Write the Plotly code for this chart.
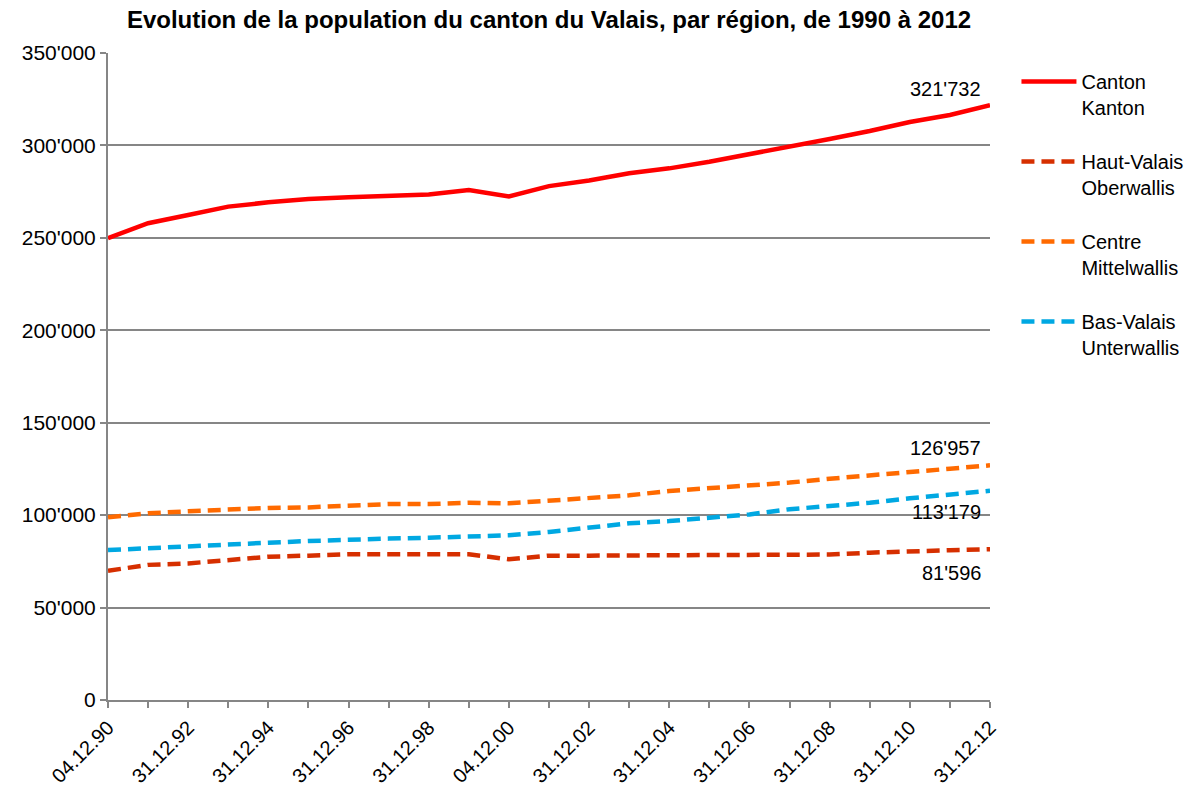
import plotly.graph_objects as go

categories = ["04.12.90", "31.12.91", "31.12.92", "31.12.93", "31.12.94", "31.12.95",
              "31.12.96", "31.12.97", "31.12.98", "31.12.99", "04.12.00", "31.12.01",
              "31.12.02", "31.12.03", "31.12.04", "31.12.05", "31.12.06", "31.12.07",
              "31.12.08", "31.12.09", "31.12.10", "31.12.11", "31.12.12"]

canton = [249817, 257900, 262400, 266900, 269200, 271000, 272000, 272600, 273400, 275900,
          272399, 278000, 281000, 284900, 287600, 291200, 295200, 299000, 303500, 307800,
          312700, 316500, 321732]
haut_valais = [69900, 73100, 73900, 75400, 77500, 78100, 78800, 78800, 78800, 78800,
               76100, 78100, 78100, 78100, 78500, 78500, 78500, 78500, 78700, 79700,
               80600, 81000, 81596]
centre = [98800, 101000, 102100, 103200, 103900, 104200, 104900, 106000, 106000, 106700,
          106400, 107800, 108900, 110700, 113100, 114500, 115800, 117600, 119700, 121200,
          123300, 125100, 126957]
bas_valais = [81100, 82200, 83500, 84600, 85100, 86000, 86900, 87300, 87800, 88300,
              89100, 90900, 93200, 95600, 96800, 98600, 100400, 103200, 104900, 106700,
              109100, 111100, 113179]

tick_labels = [c if i % 2 == 0 else "" for i, c in enumerate(categories)]

series = [
    ("Canton<br>Kanton", canton, "#FF0000", "solid"),
    ("Haut-Valais<br>Oberwallis", haut_valais, "#D62F00", "13px,7px"),
    ("Centre<br>Mittelwallis", centre, "#FF6A00", "13px,7px"),
    ("Bas-Valais<br>Unterwallis", bas_valais, "#00A8E2", "13px,7px"),
]

FONT = "Liberation Sans, Arial, sans-serif"

fig = go.Figure()
for i, (name, vals, color, dash) in enumerate(series):
    fig.add_trace(go.Scatter(
        x=categories, y=vals, mode="lines", name=name, legendgroup=str(i),
        line=dict(color=color, width=4.5, dash=dash),
    ))

# end labels
end_labels = [
    (canton[-1], -16),
    (centre[-1], -17),
    (bas_valais[-1], 21),
    (haut_valais[-1], 24),
]
for val, dy in end_labels:
    fig.add_annotation(
        x=categories[-1], y=val, text=f"{val:,}".replace(",", "'"),
        showarrow=False, xanchor="right", yanchor="middle",
        xshift=-7, yshift=-dy, font=dict(size=20, color="#000000", family=FONT),
    )

fig.update_layout(
    width=1195, height=792,
    margin=dict(l=108, r=205, t=53, b=92, autoexpand=False),
    paper_bgcolor="white", plot_bgcolor="white",
    separators=".'",
    font=dict(family=FONT, size=20, color="#000000"),
    title=dict(
        text="<b>Evolution de la population du canton du Valais, par région, de 1990 à 2012</b>",
        x=0.5, xref="paper", xanchor="center", y=0.9747, yref="container", yanchor="middle",
        font=dict(size=24, family=FONT, color="#000000"),
    ),
    legend=dict(
        x=1.03, xanchor="left", y=0.986, yanchor="top",
        font=dict(size=20, family=FONT, color="#000000"),
        valign="top", tracegroupgap=25, itemwidth=55, bgcolor="rgba(0,0,0,0)",
    ),
    showlegend=True,
)

fig.update_xaxes(
    type="category", range=[0, len(categories) - 1], automargin=False,
    tickmode="array", tickvals=categories, ticktext=tick_labels,
    tickangle=-45, ticks="outside", ticklen=6, tickcolor="#868686", tickwidth=1.5,
    showline=True, linecolor="#868686", linewidth=2, showgrid=False,
    tickfont=dict(size=20, family=FONT, color="#000000"),
)
fig.update_yaxes(
    range=[0, 350000], dtick=50000, tickformat=",d", automargin=False,
    ticks="outside", ticklen=6, tickcolor="#868686", tickwidth=1.5,
    showline=True, linecolor="#868686", linewidth=2,
    showgrid=True, gridcolor="#868686", gridwidth=1.5, zeroline=False,
    tickfont=dict(size=21, family=FONT, color="#000000"),
)

fig.write_html("out.html", config={"displayModeBar": False},
               post_script="document.body.style.margin='0';")
